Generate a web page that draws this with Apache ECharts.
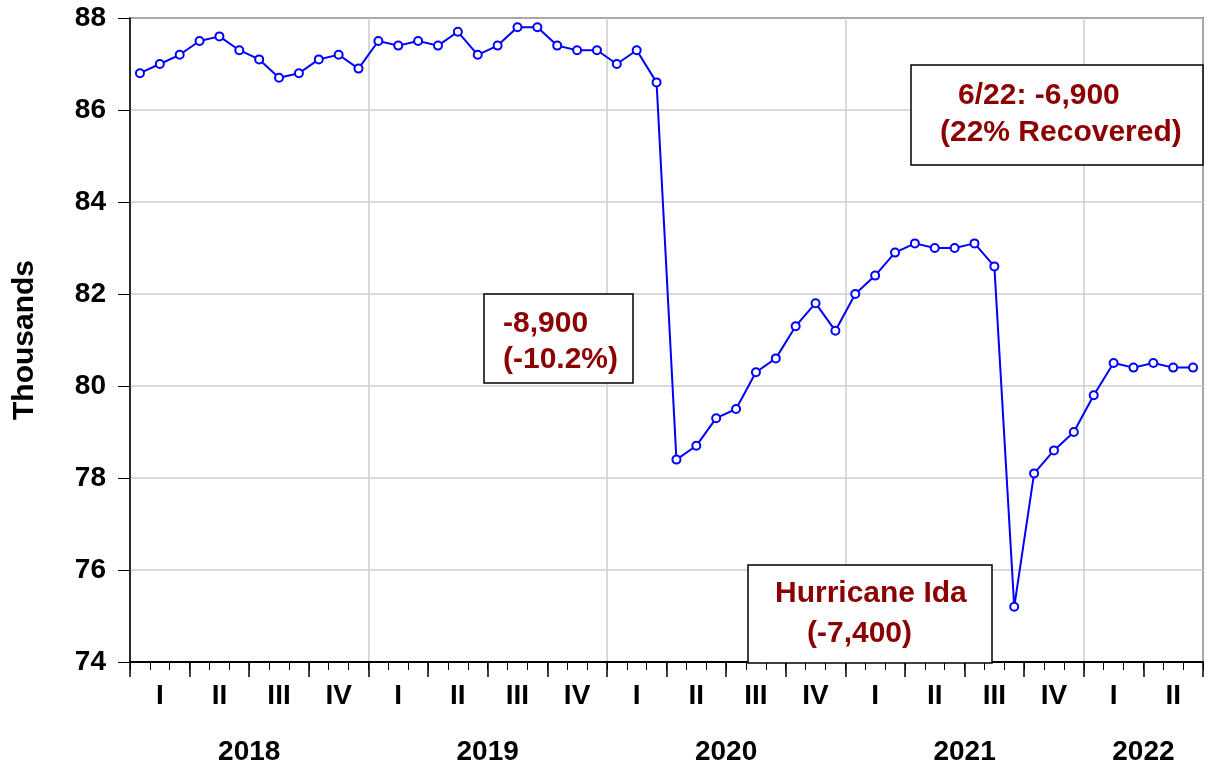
<!DOCTYPE html>
<html>
<head>
<meta charset="utf-8">
<script src="https://cdn.jsdelivr.net/npm/echarts@6/dist/echarts.min.js"></script>
<style>
html,body{margin:0;padding:0;background:#fff;}
#chart{width:1208px;height:768px;}
</style>
</head>
<body>
<div id="chart"></div>
<script>
// ---- data ----
const startYear = 2018;
const monthCount = 54;
const categories = [];
for (let i = 0; i < monthCount; i++) {
  const y = startYear + Math.floor(i / 12);
  const m = (i % 12) + 1;
  categories.push(y + '-' + (m < 10 ? '0' + m : m));
}
const values = [
  86.8, 87.0, 87.2, 87.5, 87.6, 87.3, 87.1, 86.7, 86.8, 87.1, 87.2, 86.9,
  87.5, 87.4, 87.5, 87.4, 87.7, 87.2, 87.4, 87.8, 87.8, 87.4, 87.3, 87.3,
  87.0, 87.3, 86.6, 78.4, 78.7, 79.3, 79.5, 80.3, 80.6, 81.3, 81.8, 81.2,
  82.0, 82.4, 82.9, 83.1, 83.0, 83.0, 83.1, 82.6, 75.2, 78.1, 78.6, 79.0,
  79.8, 80.5, 80.4, 80.5, 80.4, 80.4
];
const quarterLabels = ['I','II','III','IV','I','II','III','IV','I','II','III','IV','I','II','III','IV','I','II'];
const yearLabels = ['2018','2019','2020','2021','2022'];
const yTicks = [74, 76, 78, 80, 82, 84, 86, 88];

// year label centres (in month units) derived from month counts
const yearCenters = {};
yearLabels.forEach(function (lab, k) {
  const s = k * 12, e = Math.min(k * 12 + 12, monthCount);
  yearCenters[(s + e) / 2] = lab;
});

const FONT = '"Liberation Sans", Arial, sans-serif';
const RED = '#8b0000';

const chart = echarts.init(document.getElementById('chart'), null, {renderer: 'canvas'});

function box(x, y, w, h, lines, textX, textY) {
  const children = [{
    type: 'rect',
    shape: {x: x, y: y, width: w, height: h},
    style: {fill: '#fff', stroke: '#000', lineWidth: 1.5},
    z: 100
  }];
  lines.forEach(function (t, i) {
    children.push({
      type: 'text',
      x: textX[i], y: textY[i],
      style: {text: t, fill: RED, font: 'bold 30px ' + FONT, verticalAlign: 'top', align: 'left'},
      z: 101
    });
  });
  return {type: 'group', children: children};
}

const option = {
  backgroundColor: '#fff',
  animation: false,
  grid: {left: 130, right: 5, top: 18, bottom: 106, show: true, borderColor: '#000', borderWidth: 1.5, backgroundColor: 'transparent'},
  xAxis: [
    {
      type: 'category', data: categories, boundaryGap: true,
      axisLine: {show: true, lineStyle: {color: '#000', width: 2}},
      axisTick: {show: true, interval: 0, length: 8, lineStyle: {color: '#000', width: 1}},
      axisLabel: {show: false},
      splitLine: {show: true, interval: function (i) { return i % 12 === 0; }, lineStyle: {color: '#cccccc', width: 1.5}}
    },
    {
      type: 'category', data: quarterLabels, boundaryGap: true, position: 'bottom',
      axisLine: {show: false},
      axisTick: {show: true, interval: 0, length: 15, lineStyle: {color: '#000', width: 1.5}},
      axisLabel: {show: true, interval: 0, margin: 20, color: '#000', fontFamily: FONT, fontWeight: 'bold', fontSize: 28},
      splitLine: {show: false}
    },
    {
      type: 'value', min: 0, max: monthCount, interval: 0.5, position: 'bottom',
      axisLine: {show: false}, axisTick: {show: false}, splitLine: {show: false},
      axisLabel: {
        show: true, margin: 76, color: '#000', fontFamily: FONT, fontWeight: 'bold', fontSize: 28,
        formatter: function (v) { return yearCenters[v] || ''; }
      }
    }
  ],
  yAxis: {
    type: 'value', min: yTicks[0], max: yTicks[yTicks.length - 1], interval: 2,
    name: 'Thousands', nameLocation: 'middle', nameGap: 90, nameRotate: 90,
    nameTextStyle: {color: '#000', fontFamily: FONT, fontWeight: 'bold', fontSize: 30},
    axisLine: {show: true, lineStyle: {color: '#000', width: 1.5}},
    axisTick: {show: true, length: 12, lineStyle: {color: '#000', width: 1}},
    axisLabel: {margin: 24, color: '#000', fontFamily: FONT, fontWeight: 'bold', fontSize: 28},
    splitLine: {show: true, lineStyle: {color: '#cccccc', width: 1.5}}
  },
  series: [{
    type: 'line', xAxisIndex: 0, data: values,
    symbol: 'emptyCircle', symbolSize: 8, showSymbol: true,
    lineStyle: {color: '#0000ff', width: 2},
    itemStyle: {color: '#0000ff', borderColor: '#0000ff', borderWidth: 1.5},
    z: 5
  }],
  graphic: [
    box(484, 294, 149, 89, ['-8,900', '(-10.2%)'], [503, 503], [309, 345]),
    box(748, 565, 244, 98, ['Hurricane Ida', '(-7,400)'], [775, 807], [579, 619]),
    box(911, 65, 292, 100, ['6/22: -6,900', '(22% Recovered)'], [958, 940], [81, 118])
  ]
};
chart.setOption(option);
</script>
</body>
</html>
